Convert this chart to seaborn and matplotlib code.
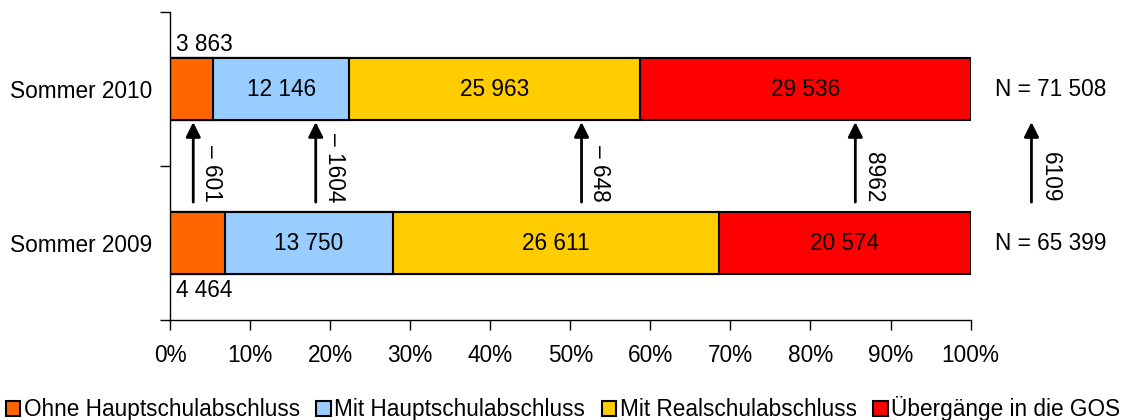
import matplotlib
matplotlib.use("Agg")
import matplotlib.pyplot as plt
import seaborn as sns
import pandas as pd
import numpy as np

years = ["Sommer 2010", "Sommer 2009"]
series = ["Ohne Hauptschulabschluss", "Mit Hauptschulabschluss",
          "Mit Realschulabschluss", "Übergänge in die GOS"]
values_2010 = [3863, 12146, 25963, 29536]
values_2009 = [4464, 13750, 26611, 20574]
colors = ["#FF6600", "#99CCFF", "#FFCC00", "#FF0000"]
changes = ["– 601", "– 1604", "– 648", "8962", "6109"]
change_x = [2.9, 18.2, 51.4, 85.6, 107.6]
xticks = [0, 10, 20, 30, 40, 50, 60, 70, 80, 90, 100]

sns.set_theme(style="white")
plt.rcParams['font.family'] = ['Liberation Sans', 'DejaVu Sans']
plt.rcParams['text.color'] = 'black'
plt.rcParams['axes.labelcolor'] = 'black'
plt.rcParams['xtick.color'] = 'black'
plt.rcParams['ytick.color'] = 'black'
FS = 16.3

vals = {years[0]: values_2010, years[1]: values_2009}
rows = []
for y in years:
    v = np.array(vals[y], dtype=float)
    pct = v / v.sum() * 100
    cum = np.cumsum(pct)
    for i, s in enumerate(series):
        rows.append(dict(year=y, series=s, value=vals[y][i], pct=pct[i],
                         cum=cum[i], start=cum[i] - pct[i]))
df = pd.DataFrame(rows)

fig = plt.figure(figsize=(11.26, 4.2), dpi=100)
ax = fig.add_axes([0.151, 0.238, 0.711, 0.733])

for i in reversed(range(len(series))):
    sub = df[df.series == series[i]]
    sns.barplot(data=sub, x="cum", y="year", order=years, color=colors[i],
                width=0.4, edgecolor="black", linewidth=1.5, ax=ax,
                saturation=1, label=series[i])

# value labels
for _, r in df.iterrows():
    yi = years.index(r.year)
    txt = f"{int(r.value):,}".replace(",", " ")
    if r.series == series[0]:
        if yi == 0:
            ax.text(0.7, yi - 0.29, txt, ha="left", va="center", fontsize=FS)
        else:
            ax.text(0.7, yi + 0.31, txt, ha="left", va="center", fontsize=FS)
    else:
        ax.text((r.start + r.cum) / 2, yi, txt, ha="center", va="center",
                fontsize=FS)

# totals
for yi, y in enumerate(years):
    tot = f"{sum(vals[y]):,}".replace(",", " ")
    ax.text(103.0, yi, f"N = {tot}", ha="left", va="center", fontsize=FS,
            clip_on=False)

# change arrows
for cx, lab in zip(change_x, changes):
    ax.annotate("", xy=(cx, 0.214), xytext=(cx, 0.734),
                arrowprops=dict(arrowstyle="-|>", color="black", lw=2,
                                mutation_scale=22, shrinkA=0, shrinkB=0),
                annotation_clip=False)
    ax.annotate(lab, xy=(cx, 0.734), xytext=(5, 0), textcoords="offset points",
                rotation=270, ha="left", va="bottom", fontsize=FS,
                annotation_clip=False)

ax.set_xlim(0, 100)
ax.set_ylim(1.5, -0.5)
ax.set_xticks(xticks)
ax.set_xticklabels([f"{t}%" for t in xticks], fontsize=FS)
ax.set_yticks([0, 1])
ax.set_yticklabels(years, fontsize=FS)
ax.set_yticks([-0.5, 0.5, 1.5], minor=True)
ax.tick_params(axis="y", which="major", length=0, pad=13)
ax.tick_params(axis="y", which="minor", length=7, width=1, color="black",
               direction="out", left=True)
ax.tick_params(axis="x", which="major", length=7, width=1, color="black",
               direction="out", bottom=True, pad=10)
ax.set_xlabel("")
ax.set_ylabel("")
for sp in ["top", "right"]:
    ax.spines[sp].set_visible(False)
for sp in ["left", "bottom"]:
    ax.spines[sp].set_color("black")
    ax.spines[sp].set_linewidth(1)
if ax.get_legend() is not None:
    ax.get_legend().remove()

from matplotlib.patches import Patch
handles = [Patch(facecolor=c, edgecolor="black", linewidth=1.5) for c in colors]
fig.legend(handles, series, loc="lower center", bbox_to_anchor=(0.5, -0.035),
           ncol=4, frameon=False, fontsize=FS, handlelength=0.65,
           handleheight=0.65, handletextpad=0.15, columnspacing=0.72,
           borderaxespad=0.2)

fig.savefig("out.png", dpi=100)
